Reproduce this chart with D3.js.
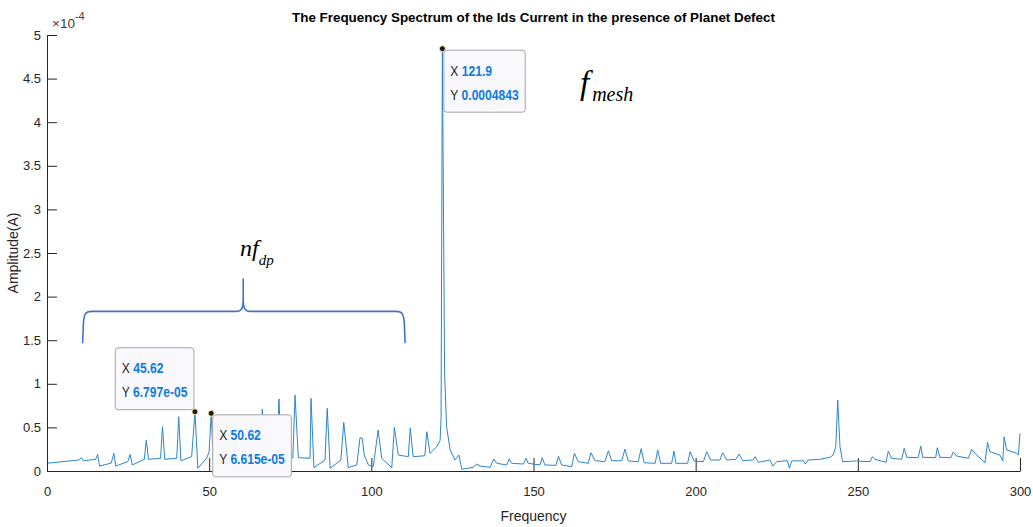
<!DOCTYPE html>
<html>
<head>
<meta charset="utf-8">
<script src="https://cdn.jsdelivr.net/npm/d3@7"></script>
<style>
  html, body { margin: 0; padding: 0; background: #ffffff; }
  svg { display: block; font-family: "Liberation Sans", Arial, Helvetica, sans-serif; }
</style>
</head>
<body>
<svg id="chart" width="1033" height="527"></svg>
<script>
// Spectrum of the Ids current: frequency (Hz) and amplitude (in units of 1e-4 A)
const freq = [
  0.3, 9.8, 10.62, 11.2, 15.0, 15.62, 16.2, 19.8, 20.62, 21.2, 24.9, 25.62, 26.3,
  30.0, 30.62, 31.3, 35.0, 35.62, 36.3, 40.0, 40.62, 41.3, 44.6, 45.62, 46.5,
  49.2, 50.0, 50.62, 51.3, 55.0, 55.8, 56.5, 60.3, 61.1, 61.8, 65.6, 66.4, 67.1,
  70.8, 71.53, 72.2, 75.8, 76.47, 77.5, 81.1, 81.4, 82.3, 85.7, 86.4, 87.3,
  90.6, 91.5, 92.9, 95.5, 96.0, 96.5, 97.2, 97.8, 99.1, 100.6, 102.1, 103.2,
  106.3, 107.1, 108.3, 111.4, 112.0, 112.9, 116.5, 117.1, 118.1, 120.2, 121.2,
  121.5, 121.9, 122.6, 123.2, 124.3, 125.8, 127.0, 127.9, 131.4, 132.5, 133.5,
  136.6, 137.8, 138.7, 141.7, 142.5, 143.3, 146.9, 147.7, 148.4, 152.0, 152.7,
  153.5, 156.9, 157.7, 158.7, 161.8, 162.6, 163.8, 166.9, 167.7, 169.0, 172.0,
  173.1, 174.1, 177.2, 178.2, 179.2, 182.3, 183.2, 184.1, 187.5, 188.3, 189.2,
  192.6, 193.3, 193.9, 197.5, 198.3, 199.5, 202.4, 203.4, 204.6, 207.5, 208.3,
  209.6, 212.4, 213.4, 214.5, 217.6, 218.3, 219.3, 222.9, 223.8, 225.0, 228.3,
  228.9, 229.6, 233.2, 233.8, 234.7, 238.3, 241.4, 242.4, 243.2, 243.8, 244.5,
  245.3, 249.6, 253.8, 254.5, 255.3, 258.7, 259.4, 260.4, 263.5, 264.3, 265.1,
  268.6, 269.4, 270.0, 274.0, 274.5, 275.3, 278.7, 279.4, 280.4, 284.1, 285.1,
  286.1, 289.2, 290.0, 290.7, 293.8, 294.7, 295.1, 295.9, 299.0, 299.5, 300.0
];
const amp = [
  0.09, 0.126, 0.153, 0.118, 0.134, 0.19, 0.057, 0.09, 0.203, 0.057, 0.107, 0.19, 0.069,
  0.134, 0.355, 0.134, 0.146, 0.508, 0.134, 0.146, 0.623, 0.118, 0.164, 0.6797, 0.031,
  0.146, 0.22, 0.6615, 0.12, 0.15, 0.5, 0.06, 0.16, 0.6, 0.12, 0.15, 0.711, 0.13,
  0.15, 0.826, 0.13, 0.15, 0.872, 0.153, 0.146, 0.833, 0.038, 0.126, 0.719, 0.031,
  0.126, 0.558, 0.038, 0.069, 0.22, 0.382, 0.375, 0.183, 0.069, 0.05, 0.47, 0.146,
  0.038, 0.5, 0.183, 0.164, 0.49, 0.164, 0.175, 0.45, 0.203, 0.279, 0.35,
  0.6, 4.843, 1.1, 0.508, 0.241, 0.126, 0.183, 0.02, 0.042, 0.08, 0.057,
  0.042, 0.138, 0.088, 0.069, 0.138, 0.088, 0.08, 0.146, 0.088, 0.069, 0.153,
  0.069, 0.065, 0.168, 0.069, 0.05, 0.203, 0.107, 0.088, 0.21, 0.118, 0.107,
  0.233, 0.118, 0.118, 0.252, 0.115, 0.107, 0.256, 0.095, 0.088, 0.241, 0.088,
  0.088, 0.229, 0.088, 0.088, 0.222, 0.115, 0.107, 0.222, 0.126, 0.126, 0.21,
  0.126, 0.134, 0.195, 0.118, 0.126, 0.164, 0.1, 0.126, 0.057, 0.107, 0.118,
  0.031, 0.115, 0.118, 0.08, 0.126, 0.134, 0.157, 0.183, 0.279, 0.814, 0.279,
  0.107, 0.115, 0.107, 0.164, 0.134, 0.1, 0.229, 0.146, 0.134, 0.26, 0.157,
  0.153, 0.287, 0.157, 0.153, 0.267, 0.157, 0.153, 0.218, 0.172, 0.146, 0.249,
  0.203, 0.095, 0.329, 0.222, 0.183, 0.115, 0.393, 0.241, 0.203, 0.183, 0.43
];
const AMP_UNIT = 1e-4;

// Axis ticks
const xTicks = [0, 50, 100, 150, 200, 250, 300];
const yTickLabels = ["0", "0.5", "1", "1.5", "2", "2.5", "3", "3.5", "4", "4.5", "5"];

// Data tips
const tipFreq = [45.62, 50.62, 121.9];
const tipAmp = [6.797e-5, 6.615e-5, 0.0004843];
const tipXText = ["45.62", "50.62", "121.9"];
const tipYText = ["6.797e-05", "6.615e-05", "0.0004843"];
const tipSide = ["upLeft", "downRight", "downRight"];

// Texts
const titleText = "The Frequency Spectrum of the Ids Current in the presence of Planet Defect";
const xLabelText = "Frequency";
const yLabelText = "Amplitude(A)";

const W = 1033, H = 527;
const margin = { left: 47, right: 13, top: 35, bottom: 56 };
const svg = d3.select("#chart");

const x = d3.scaleLinear().domain([0, 300]).range([margin.left, W - margin.right]);
const y = d3.scaleLinear().domain([0, 5 * AMP_UNIT]).range([H - margin.bottom, margin.top]);

const axisColor = "#262626";
const sans = "'Liberation Sans', Arial, Helvetica, sans-serif";
const serif = "'Liberation Serif', 'Times New Roman', serif";

// Axes (ticks point inward)
const xAxis = d3.axisBottom(x).tickValues(xTicks).tickSizeInner(-13).tickSizeOuter(0)
  .tickPadding(16).tickFormat(d3.format("d"));
const gx = svg.append("g").attr("transform", `translate(0,${H - margin.bottom})`).call(xAxis);

const yTickValues = yTickLabels.map(s => +s * AMP_UNIT);
const yAxis = d3.axisLeft(y).tickValues(yTickValues).tickSizeInner(-10).tickSizeOuter(0)
  .tickPadding(6).tickFormat((d, i) => yTickLabels[i]);
const gy = svg.append("g").attr("transform", `translate(${margin.left},0)`).call(yAxis);

[gx, gy].forEach(g => {
  g.attr("font-family", null).attr("font-size", null);
  g.select(".domain").attr("stroke", axisColor).attr("stroke-width", 1);
  g.selectAll(".tick line").attr("stroke", axisColor).attr("stroke-width", 1);
  g.selectAll(".tick text").attr("fill", axisColor)
    .style("font-size", "13px").style("font-family", sans);
});

// Exponent label
const expo = svg.append("text").attr("x", margin.left + 5).attr("y", margin.top - 7)
  .attr("fill", "#404040").style("font-size", "13.5px").style("font-family", sans);
expo.append("tspan").text("\u00d710");
expo.append("tspan").attr("dy", -8).style("font-size", "11px").text("-4");

// Spectrum line
const pts = freq.map((f, i) => [f, amp[i] * AMP_UNIT]);
const line = d3.line().x(d => x(d[0])).y(d => y(d[1]));
svg.append("path").datum(pts)
  .attr("fill", "none").attr("stroke", "#2b86cc").attr("stroke-width", 1)
  .attr("stroke-linejoin", "round").attr("d", line);

// Title and axis labels
svg.append("text").attr("x", (x(0) + x(300)) / 2).attr("y", 22)
  .attr("text-anchor", "middle").style("font-weight", "bold").style("font-size", "13.4px")
  .style("font-family", sans).attr("fill", "#000").text(titleText);
svg.append("text").attr("x", (x(0) + x(300)) / 2).attr("y", 521)
  .attr("text-anchor", "middle").style("font-size", "14px").style("font-family", sans)
  .attr("fill", axisColor).text(xLabelText);
svg.append("text").attr("transform", `translate(18,${(y(0) + y(5 * AMP_UNIT)) / 2}) rotate(-90)`)
  .attr("text-anchor", "middle").style("font-size", "14px").style("font-family", sans)
  .attr("fill", axisColor).text(yLabelText);

// Brace grouping the defect sidebands
const braceLeft = 11.0, braceRight = 110.4, braceMid = 60.5;
const braceLevel = 1.83 * AMP_UNIT, braceFoot = 1.47 * AMP_UNIT, braceTip = 2.2 * AMP_UNIT;
{
  const x0 = x(braceLeft), x1 = x(braceRight), xm = x(braceMid);
  const yt = y(braceLevel), yb = y(braceFoot), yk = y(braceTip);
  const p = d3.path();
  p.moveTo(x0, yb);
  p.lineTo(x0 + 0.6, yt + 14);
  p.bezierCurveTo(x0 + 1.2, yt + 2, x0 + 3, yt, x0 + 9, yt);
  p.lineTo(xm - 7, yt);
  p.bezierCurveTo(xm - 2, yt, xm, yt - 3, xm, yt - 12);
  p.lineTo(xm, yk);
  p.moveTo(xm, yt - 12);
  p.bezierCurveTo(xm, yt - 3, xm + 2, yt, xm + 7, yt);
  p.lineTo(x1 - 9, yt);
  p.bezierCurveTo(x1 - 3, yt, x1 - 1.2, yt + 2, x1 - 0.6, yt + 14);
  p.lineTo(x1, yb);
  svg.append("path").attr("d", p.toString()).attr("fill", "none")
    .attr("stroke", "#4472c4").attr("stroke-width", 1.6).attr("stroke-linecap", "round");
}

// Math-style annotations
const nf = svg.append("text").attr("x", 240).attr("y", 256)
  .style("font-family", serif).style("font-style", "italic").attr("fill", "#000");
nf.append("tspan").style("font-size", "24px").text("nf");
nf.append("tspan").style("font-size", "15px").attr("dy", 9).text("dp");

const fm = svg.append("text").attr("x", 580).attr("y", 94)
  .style("font-family", serif).style("font-style", "italic").attr("fill", "#000");
fm.append("tspan").style("font-size", "33px").text("f");
fm.append("tspan").style("font-size", "20px").attr("dx", 3).attr("dy", 7).text("mesh");

// Data tips
tipFreq.forEach((f, i) => {
  const px = x(f), py = y(tipAmp[i]);
  const g = svg.append("g");
  const t = g.append("text").style("font-size", "13px").style("font-family", sans);
  const l1 = t.append("tspan").attr("x", 0).attr("y", 0);
  l1.append("tspan").attr("fill", "#262626").text("X ");
  l1.append("tspan").attr("fill", "#0f7ae5").style("font-weight", "bold").text(tipXText[i]);
  const l2 = t.append("tspan").attr("x", 0).attr("y", 22.5);
  l2.append("tspan").attr("fill", "#262626").text("Y ");
  l2.append("tspan").attr("fill", "#0f7ae5").style("font-weight", "bold").text(tipYText[i]);
  const sx = 0.93;
  const bb = t.node().getBBox();
  const bw = bb.width * sx + 13, bh = 62;
  let bx, by;
  if (tipSide[i] === "upLeft") { bx = px - 1 - bw; by = py - 2 - bh; }
  else { bx = px + 1.5; by = py + 1.5; }
  g.insert("rect", "text").attr("x", bx).attr("y", by).attr("width", bw).attr("height", bh)
    .attr("rx", 3).attr("fill", "#f8f8fd").attr("stroke", "#a6a6a6").attr("stroke-width", 1);
  t.attr("transform", `translate(${bx + 6.5},${by + 25.5}) scale(${sx},1.06)`);
  svg.append("circle").attr("cx", px).attr("cy", py).attr("r", 3)
    .attr("fill", "#1a1a1a").attr("stroke", "#f2eca0").attr("stroke-width", 1);
});
</script>
</body>
</html>
